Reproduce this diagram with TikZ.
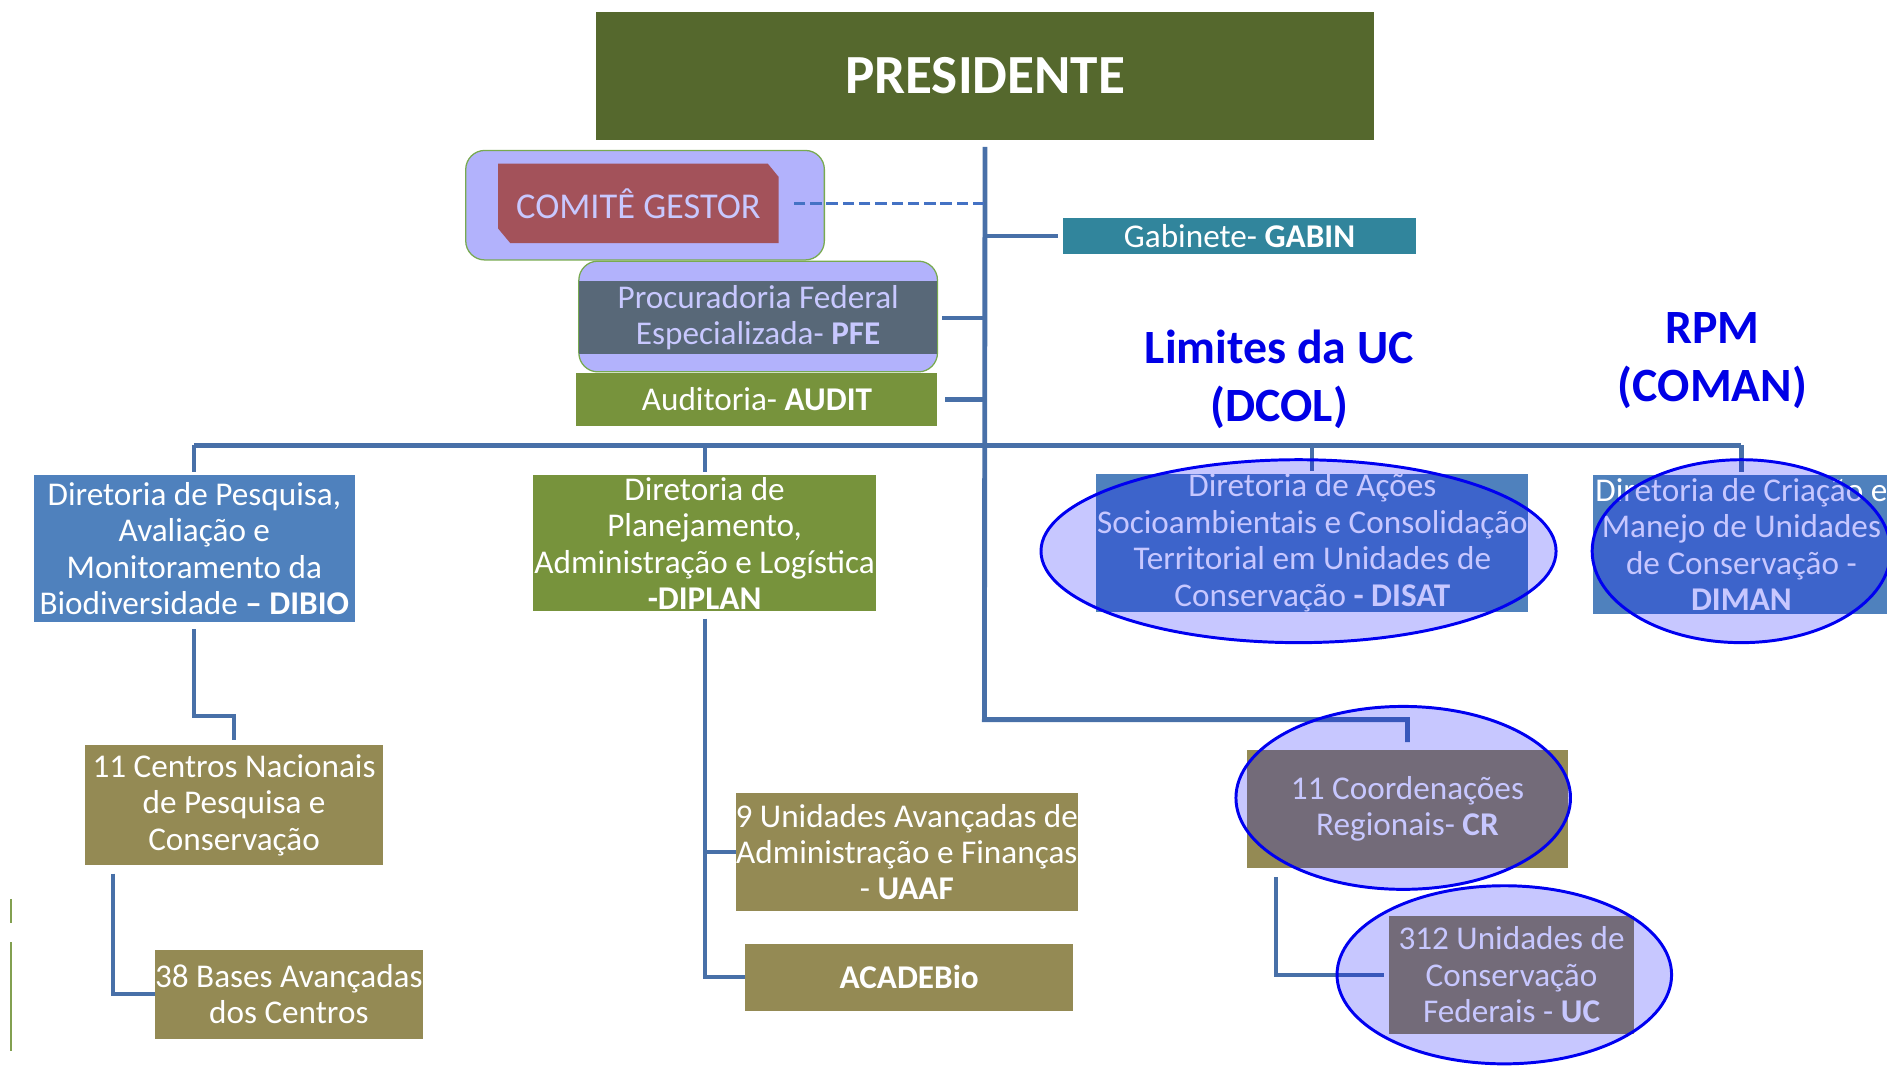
\documentclass[tikz,border=0pt]{standalone}
\usepackage{fontspec}
\setmainfont{Carlito}
\definecolor{presgreen}{RGB}{85,104,45}
\definecolor{linecol}{RGB}{72,112,168}
\definecolor{dashcol}{RGB}{68,114,196}
\definecolor{comred}{RGB}{163,82,90}
\definecolor{lavfill}{RGB}{178,178,252}
\definecolor{lavtext}{RGB}{200,200,255}
\definecolor{lavborder}{RGB}{120,170,80}
\definecolor{pfegray}{RGB}{88,104,120}
\definecolor{gabteal}{RGB}{49,133,156}
\definecolor{audgreen}{RGB}{119,147,60}
\definecolor{dirblue}{RGB}{79,129,189}
\definecolor{khaki}{RGB}{148,138,84}
\definecolor{titleblue}{RGB}{0,0,230}
\definecolor{ellblue}{RGB}{0,0,240}
\definecolor{artgreen}{RGB}{130,160,80}
\newcommand\fs{\fontsize{15.7}{17.2}\selectfont}
\begin{document}
\begin{tikzpicture}[x=0.02cm,y=-0.02cm,
  box/.style={inner sep=0pt, outer sep=0pt, align=center, text=white, font=\fs},
  wh/.style 2 args={minimum width=#1*0.02cm, minimum height=#2*0.02cm},
  conn/.style={draw=linecol, line width=2pt},
  trunk/.style={draw=linecol, line width=2.3pt},
  halo/.style={fill=blue, fill opacity=0.22, draw=ellblue, draw opacity=1, line width=1.4pt},
  bigtitle/.style={text=titleblue, font=\fontsize{22.6}{27.5}\selectfont\bfseries, align=center, inner sep=0pt},
  lavbox/.style={fill=lavfill, draw=lavborder, line width=0.6pt, rounded corners=9pt}
]
\useasboundingbox (0,0) rectangle (1568,885);
\clip (0,0) rectangle (1568,885);

% President
\node[box, fill=presgreen, wh={647}{106}, font=\fontsize{26.1}{30}\selectfont\bfseries] (pres) at (818.5,63) {PRESIDENTE};

% Comite gestor
\fill[lavbox] (387,125) rectangle (685,216);
\fill[comred] (414,136) -- (638,136) -- (647,147) -- (647,202) -- (424,202) -- (414,190) -- cycle;
\node[box, wh={233}{66}, text=lavtext, font=\fontsize{17.2}{20}\selectfont] (com) at (530.5,169) {COMITÊ GESTOR};

% PFE
\fill[lavbox] (481,217) rectangle (779,309);
\node[box, fill=pfegray, wh={298}{61}, text=lavtext] (pfe) at (630,264) {Procuradoria Federal\\Especializada- \textbf{PFE}};

% Gabinete
\node[box, fill=gabteal, wh={294}{30}] (gab) at (1030,196) {Gabinete- \textbf{GABIN}};

% Auditoria
\node[box, fill=audgreen, wh={300}{44}] (aud) at (629,332) {Auditoria- \textbf{AUDIT}};

% Titles
\node[bigtitle] (limites) at (1063,315) {Limites da UC\\(DCOL)};
\node[bigtitle] (rpm) at (1423,300) {RPM\\(COMAN)};

% Directorates
\node[box, fill=dirblue, wh={267}{122}] (dibio) at (161.5,456) {Diretoria de Pesquisa,\\Avaliação e\\Monitoramento da\\Biodiversidade \textbf{– DIBIO}};
\node[box, fill=audgreen, wh={285}{113}] (diplan) at (585.5,451.5) {Diretoria de\\Planejamento,\\Administração e Logística\\\textbf{-DIPLAN}};
\node[box, fill=dirblue, wh={359}{114}] (disat) at (1090.5,451) {Diretoria de Ações\\Socioambientais e Consolidação\\Territorial em Unidades de\\Conservação \textbf{- DISAT}};
\node[box, fill=dirblue, wh={246}{115}] (diman) at (1447,452.5) {Diretoria de Criação e\\Manejo de Unidades\\de Conservação -\\\textbf{DIMAN}};

% Lower boxes
\node[box, fill=khaki, wh={247}{100}] (cnpc) at (194.5,669) {11 Centros Nacionais\\de Pesquisa e\\Conservação};
\node[box, fill=khaki, wh={222}{74}] (bases) at (240,826) {38 Bases Avançadas\\dos Centros};
\node[box, fill=khaki, wh={283}{98}] (uaaf) at (753.5,708) {9 Unidades Avançadas de\\Administração e Finanças\\- \textbf{UAAF}};
\node[box, fill=khaki, wh={273}{56}] (acad) at (755.5,812) {\textbf{ACADEBio}};
\node[box, fill=khaki, wh={267}{98}] (cr) at (1169.5,672) {11 Coordenações\\Regionais- \textbf{CR}};
\node[box, fill=khaki, wh={204}{98}] (uc) at (1256,810) {312 Unidades de\\Conservação\\Federais - \textbf{UC}};

% Coordinates
\coordinate (bus) at (818,370);
\coordinate (t1) at (818,598);
\coordinate (k1) at (161,595);
\coordinate (k2) at (94,726);
\coordinate (k3) at (1060,729);

% Connectors
\draw[trunk, shorten <=3.4pt, shorten >=3.6pt] (pres.south) -- (t1) -| (cr.north);
\draw[trunk] (dibio.north |- bus) -- (diman.north |- bus);
\foreach \n in {dibio,diplan,disat,diman}
  \draw[conn, shorten >=1.5pt] (\n.north |- bus) -- (\n.north);
\draw[conn, shorten >=2pt] (gab.west -| t1) -- (gab.west);
\draw[conn, shorten >=2.3pt] (pfe.east -| t1) -- (pfe.east);
\draw[conn, shorten >=3.4pt] (aud.east -| t1) -- (aud.east);
\draw[dashcol, line width=1.4pt, dash pattern=on 5.4pt off 2.3pt, shorten >=5.6pt] (com.east -| t1) -- (com.east);
\draw[conn, shorten <=3.4pt, shorten >=2.3pt] (dibio.south) -- (dibio.south |- k1) -| (cnpc.north);
\draw[conn] (k2) -- (k2 |- bases.west) -- (bases.west);
\draw[conn, shorten <=3.4pt] (diplan.south) |- (acad.west);
\draw[conn] (diplan.south |- uaaf.west) -- (uaaf.west);
\draw[conn, shorten >=2.3pt] (k3) |- (uc.west);

% Highlight ellipses
\draw[halo] (1079,458) ellipse [x radius=214, y radius=76];
\draw[halo] (1447,458) ellipse [x radius=124, y radius=76];
\draw[halo] (1166,663) ellipse [x radius=139, y radius=76];
\draw[halo] (1250,810) ellipse [x radius=139, y radius=74];

% stray marks at left edge
\draw[artgreen, line width=0.8pt] (9,747) -- (9,767);
\draw[artgreen, line width=0.8pt] (9,783) -- (9,873);
\end{tikzpicture}
\end{document}
